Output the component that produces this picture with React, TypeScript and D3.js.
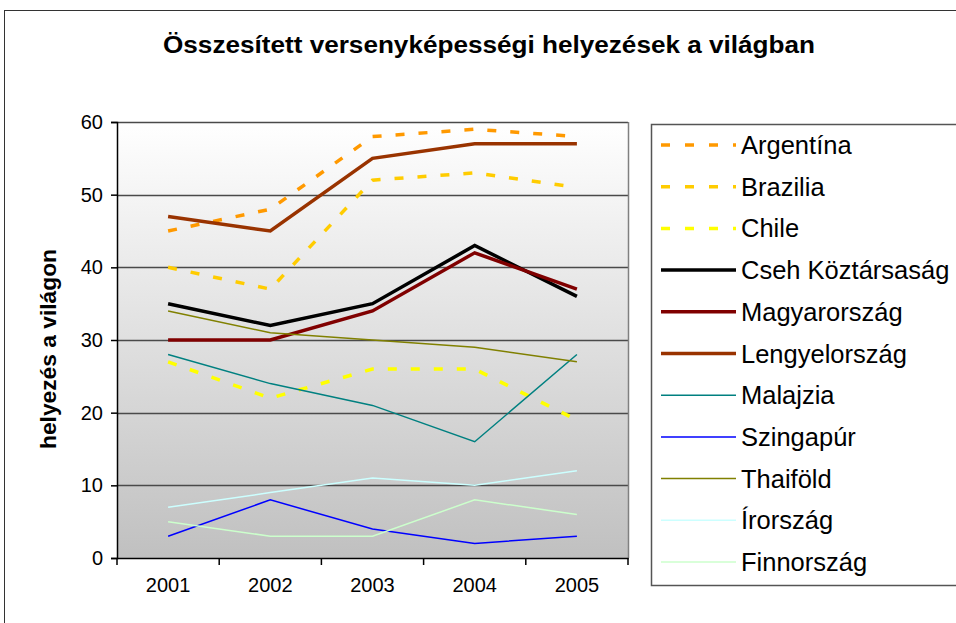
import React, { useEffect, useRef } from "react";
import * as d3 from "d3";

const years = ["2001", "2002", "2003", "2004", "2005"];
const yTicks = [0, 10, 20, 30, 40, 50, 60];
const seriesNames = [
  "Argentína", "Brazilia", "Chile", "Cseh Köztársaság", "Magyarország", "Lengyelország",
  "Malajzia", "Szingapúr", "Thaiföld", "Írország", "Finnország",
];
const argentina = [45, 48, 58, 59, 58];
const brazilia = [40, 37, 52, 53, 51];
const chile = [27, 22, 26, 26, 19];
const cseh = [35, 32, 35, 43, 36];
const magyar = [30, 30, 34, 42, 37];
const lengyel = [47, 45, 55, 57, 57];
const malajzia = [28, 24, 21, 16, 28];
const szingapur = [3, 8, 4, 2, 3];
const thaifold = [34, 31, 30, 29, 27];
const irorszag = [7, 9, 11, 10, 12];
const finnorszag = [5, 3, 3, 8, 6];
const seriesValues = [argentina, brazilia, chile, cseh, magyar, lengyel, malajzia, szingapur, thaifold, irorszag, finnorszag];
const colors = ["#FF9900", "#FFCC00", "#FFFF00", "#000000", "#800000", "#993300", "#008080", "#0000FF", "#808000", "#CCFFFF", "#CCFFCC"];
const widths = [3.5, 3.5, 3.5, 3.5, 3.5, 3.5, 1.5, 1.5, 1.5, 1.5, 1.5];
const dashed = [true, true, true, false, false, false, false, false, false, false, false];

export default function App() {
  const ref = useRef<SVGSVGElement>(null);
  useEffect(() => {
    const svg = d3.select(ref.current);
    svg.selectAll("*").remove();
    const W = 956, H = 623;
    const L = 117, R = 628, T = 122, B = 558;
    const font = "Arial, 'Liberation Sans', sans-serif";

    svg.append("rect").attr("x", 0).attr("y", 0).attr("width", W).attr("height", H).attr("fill", "#fff");
    svg.append("rect").attr("x", 4.5).attr("y", 10.5).attr("width", W + 10).attr("height", H + 10)
      .attr("fill", "none").attr("stroke", "#333").attr("stroke-width", 1);

    const defs = svg.append("defs");
    const g = defs.append("linearGradient").attr("id", "bg").attr("x1", 0).attr("y1", 0).attr("x2", 0).attr("y2", 1);
    g.append("stop").attr("offset", "0%").attr("stop-color", "#FFFFFF");
    g.append("stop").attr("offset", "100%").attr("stop-color", "#C0C0C0");

    const x = d3.scaleBand().domain(years).range([L, R]);
    const y = d3.scaleLinear().domain([0, 60]).range([B, T]);

    svg.append("rect").attr("x", L).attr("y", T).attr("width", R - L).attr("height", B - T).attr("fill", "url(#bg)");

    // gridlines
    svg.append("g").selectAll("line").data(yTicks.filter(t => t > 0)).join("line")
      .attr("x1", L).attr("x2", R).attr("y1", d => Math.round(y(d)) + 0.5).attr("y2", d => Math.round(y(d)) + 0.5)
      .attr("stroke", "#4a4a4a").attr("stroke-width", 1.5);
    // right border
    svg.append("line").attr("x1", R + 0.5).attr("x2", R + 0.5).attr("y1", T).attr("y2", B).attr("stroke", "#808080").attr("stroke-width", 1.5);

    // axes
    const yAxis = svg.append("g").attr("transform", `translate(${L},0)`)
      .call(d3.axisLeft(y).tickValues(yTicks).tickSize(6).tickPadding(8).tickFormat(d3.format("d")));
    yAxis.select(".domain").attr("stroke", "#000").attr("stroke-width", 1.5);
    yAxis.selectAll(".tick line").attr("stroke", "#000").attr("stroke-width", 1.5);
    yAxis.selectAll("text").attr("font-family", font).attr("font-size", 20).attr("fill", "#000");

    const xAxis = svg.append("g").attr("transform", `translate(0,${B})`)
      .call(d3.axisBottom(x).tickSize(0).tickPadding(20));
    xAxis.select(".domain").attr("stroke", "#000").attr("stroke-width", 1.5);
    xAxis.selectAll("text").attr("font-family", font).attr("font-size", 20).attr("fill", "#000");
    const bounds = [...years.map(yr => x(yr) as number), R];
    svg.append("g").selectAll("line").data(bounds).join("line")
      .attr("x1", d => d).attr("x2", d => d).attr("y1", B).attr("y2", B + 7)
      .attr("stroke", "#000").attr("stroke-width", 1.5);

    // lines
    const line = d3.line<number>()
      .x((_, i) => (x(years[i]) as number) + x.bandwidth() / 2)
      .y(d => y(d));
    seriesValues.forEach((vals, i) => {
      svg.append("path").datum(vals).attr("d", line).attr("fill", "none")
        .attr("stroke", colors[i]).attr("stroke-width", widths[i])
        .attr("stroke-linejoin", "miter")
        .attr("stroke-dasharray", dashed[i] ? "9 14" : null);
    });

    // title
    svg.append("text").attr("x", 489).attr("y", 53).attr("text-anchor", "middle")
      .attr("font-family", font).attr("font-size", 23).attr("font-weight", "bold")
      .attr("textLength", 652).attr("lengthAdjust", "spacingAndGlyphs")
      .text("Összesített versenyképességi helyezések a világban");

    // y title
    svg.append("text").attr("transform", `translate(56,${(248 + 450) / 2}) rotate(-90)`)
      .attr("text-anchor", "middle").attr("font-family", font).attr("font-size", 22).attr("font-weight", "bold")
      .attr("textLength", 200).attr("lengthAdjust", "spacingAndGlyphs")
      .text("helyezés a világon");

    // legend
    svg.append("rect").attr("x", 651.5).attr("y", 124.5).attr("width", 320).attr("height", 461)
      .attr("fill", "#fff").attr("stroke", "#555").attr("stroke-width", 1.5);
    seriesNames.forEach((name, i) => {
      const cy = 145 + i * 41.7;
      svg.append("line").attr("x1", 661).attr("x2", 736).attr("y1", cy).attr("y2", cy)
        .attr("stroke", colors[i]).attr("stroke-width", widths[i])
        .attr("stroke-dasharray", dashed[i] ? "9 15" : null);
      svg.append("text").attr("x", 741).attr("y", cy + 9).attr("font-family", font).attr("font-size", 25.5)
        .attr("fill", "#000").text(name);
    });
  }, []);
  return (
    <svg ref={ref} width={956} height={623} style={{ position: "absolute", left: 0, top: 0 }} />
  );
}
